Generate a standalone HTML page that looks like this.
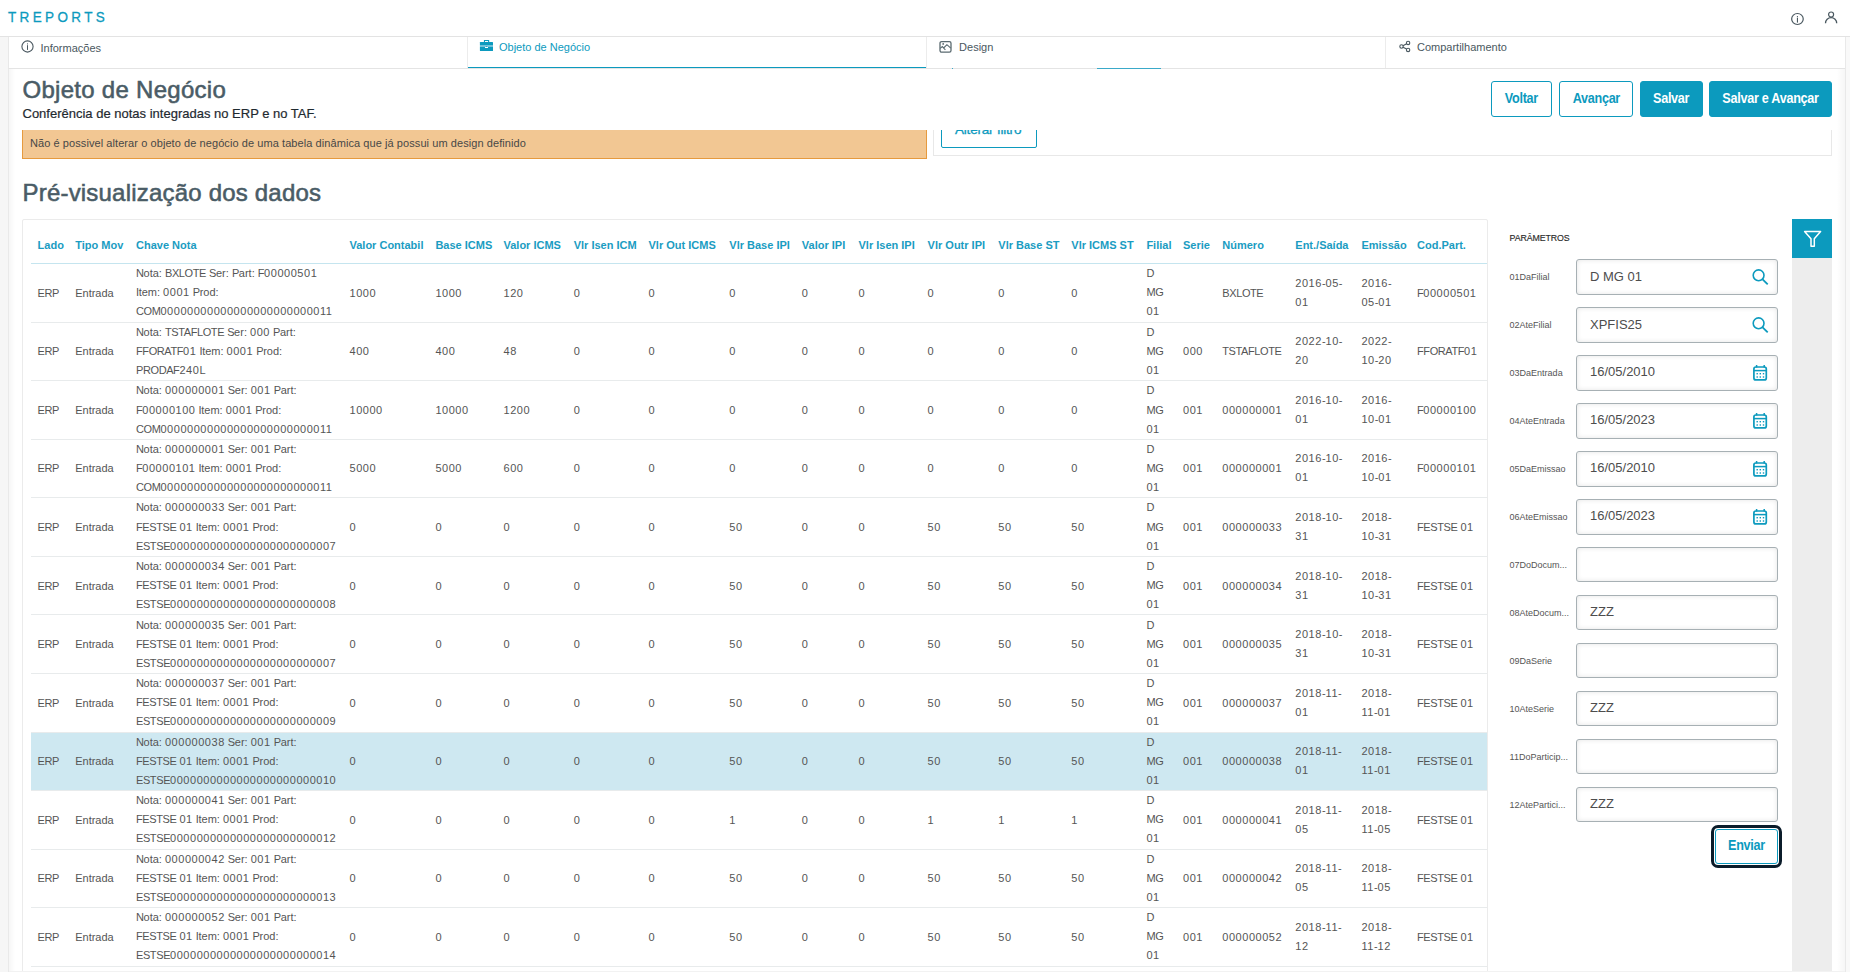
<!DOCTYPE html>
<html><head><meta charset="utf-8"><title>TReports</title><style>
*{box-sizing:border-box}
html,body{margin:0;padding:0}
body{width:1850px;height:972px;overflow:hidden;position:relative;background:#f6f6f6;font-family:"Liberation Sans",sans-serif}
.t{position:absolute;white-space:nowrap;line-height:1}
.ic{position:absolute}
.d{letter-spacing:0.53px}
.u{letter-spacing:-0.4px}
.c{font-size:11px;color:#555}
#hdr{position:absolute;left:0;top:0;width:1850px;height:37px;background:#fff;border-bottom:1px solid #e3e3e3}
#card{position:absolute;left:8px;top:37px;width:1837px;height:940px;background:#fff;border-left:1px solid #e9e9e9}
#lsh{position:absolute;left:9px;top:69px;width:6px;height:910px;background:linear-gradient(to right,rgba(0,0,0,0.035),rgba(0,0,0,0))}
#tabs{position:absolute;left:8px;top:37px;width:1837px;height:32px;background:#fff;border-bottom:1px solid #e4e4e4;border-left:1px solid #e8e8e8}
.vdiv{position:absolute;top:37px;width:1px;height:31px;background:#ececec}
#tabact{position:absolute;left:468px;top:67px;width:458px;height:1px;background:#0c9abe}
#fcard{position:absolute;left:933px;top:100px;width:899px;height:56px;background:#fff;border:1px solid #e8e8e8;border-radius:0}
#altbtn{position:absolute;left:941px;top:111px;width:96px;height:37px;border:1px solid #0c9abe;border-radius:2px;background:#fff;overflow:hidden}
#cover{position:absolute;left:933px;top:69px;width:912px;height:61px;background:#fff}
.btn{position:absolute;top:81px;height:36px;border:1px solid #0c9abe;border-radius:3px;background:#fff;color:#0c9abe;font-size:14px;font-weight:700;letter-spacing:-0.3px;text-align:center;line-height:32px;white-space:nowrap}
.btn span{display:inline-block;transform:scaleX(0.9)}
.btn.fill{background:#0c9abe;color:#fff}
#alert{position:absolute;left:22px;top:130px;width:905px;height:29px;background:#f2c793;border-left:1px solid #e69a3e;border-right:1px solid #e69a3e;border-bottom:1px solid #e69a3e}
#tcard{position:absolute;left:22px;top:219px;width:1466px;height:760px;background:#fff;border:1px solid #ebebeb;border-radius:2px}
#thline{position:absolute;left:31px;top:263px;width:1456px;height:1px;background:#c5e5ef}
.rb{position:absolute;left:31px;width:1456px;height:1px;background:#e8ebec}
.row{position:absolute;left:31px;width:1456px}
.row.sel{background:#cee8f1}
.inp{position:absolute;left:1576px;width:202px;height:36px;border:1px solid #a7b0b4;border-radius:3px;background:#fff;box-shadow:inset 0 0 5px rgba(0,0,0,0.11)}
#envring{position:absolute;left:1711px;top:825px;width:71px;height:43px;border:3px solid #0b1c2a;border-radius:7px;background:#fff}
#enviar{left:1715px;top:829px;width:63px;height:35px;line-height:31px;border-radius:3px}
#fcol{position:absolute;left:1792px;top:258px;width:40px;height:720px;background:#ededed}
#fbtn{position:absolute;left:1792px;top:219px;width:40px;height:39px;background:#0c9abe}
#rstrip{position:absolute;left:1845px;top:37px;width:5px;height:940px;background:#f9f9f9;border-left:1px solid #e9e9e9}
#rsh{position:absolute;left:1837px;top:69px;width:8px;height:910px;background:linear-gradient(to left,rgba(0,0,0,0.035),rgba(0,0,0,0))}
</style></head><body>
<div id="hdr"></div>
<div class="t" style="left:8.00px;top:8.96px;font-size:16px;color:#0c9abe;font-weight:400;letter-spacing:3.98px;-webkit-text-stroke:0.3px #0c9abe;transform:scale(0.844,0.9);transform-origin:0 13.54px;">TREPORTS</div>
<svg class="ic" style="left:1790px;top:11px" width="16" height="16" viewBox="0 0 16 16"><ellipse cx="7.45" cy="8" rx="5.8" ry="5.5" fill="none" stroke="#4a5860" stroke-width="1.2"/><rect x="6.9" y="5" width="1.1" height="0.9" fill="#4a5860"/><rect x="6.9" y="6.6" width="1.1" height="5" fill="#4a5860"/></svg>
<svg class="ic" style="left:1822px;top:9px" width="18" height="18" viewBox="0 0 18 18"><circle cx="9.1" cy="5.5" r="2.5" fill="none" stroke="#4a5860" stroke-width="1.2"/><path d="M3.5 14.2 A5.6 5.6 0 0 1 14.7 14.2" fill="none" stroke="#4a5860" stroke-width="1.3"/></svg>
<div id="card"></div>
<div id="lsh"></div>
<div id="tabs"></div>
<div class="vdiv" style="left:467px"></div>
<div class="vdiv" style="left:926px"></div>
<div class="vdiv" style="left:1385px"></div>
<div id="tabact"></div>
<div style="position:absolute;left:1097px;top:68px;width:64px;height:1px;background:#3aa9c9"></div>
<div style="position:absolute;left:952px;top:68px;width:1px;height:1px;background:#3aa9c9"></div>
<svg class="ic" style="left:20px;top:40px" width="14" height="14" viewBox="0 0 14 14"><circle cx="7.5" cy="6.5" r="5.6" fill="none" stroke="#4a5860" stroke-width="1.1"/><rect x="7" y="5.2" width="1" height="4.7" fill="#4a5860"/><rect x="7" y="3.4" width="1" height="1" fill="#4a5860"/></svg>
<div class="t" style="left:40.50px;top:42.69px;font-size:11px;color:#4a5860;">Informações</div>
<svg class="ic" style="left:474px;top:36px" width="30" height="20" viewBox="0 0 30 20"><path fill="#0c9abe" fill-rule="evenodd" d="M10.3 3.9 H14.8 Q15.2 3.9 15.2 4.3 V6.2 H14.1 V5.1 H11 V6.2 H9.9 V4.3 Q9.9 3.9 10.3 3.9 Z"/><path fill="#0c9abe" d="M6.4 6 H18.5 Q19 6 19 6.5 V9 H5.9 V6.5 Q5.9 6 6.4 6 Z"/><rect x="5.9" y="9" width="13.1" height="2" fill="#72c2da"/><path fill="#0c9abe" d="M5.9 11 H11 V11.9 H14 V11 H19 V14.5 Q19 15 18.5 15 H6.4 Q5.9 15 5.9 14.5 Z"/><rect x="12.2" y="10.1" width="0.7" height="0.9" fill="#0c9abe"/></svg>
<div class="t" style="left:499.00px;top:42.49px;font-size:11px;color:#0c9abe;">Objeto de Negócio</div>
<svg class="ic" style="left:939px;top:40px" width="13" height="13" viewBox="0 0 13 13"><rect x="1" y="1.6" width="11" height="10.6" rx="1.6" fill="none" stroke="#5a6a70" stroke-width="1.3"/><circle cx="4.2" cy="3.9" r="0.9" fill="#5a6a70"/><path d="M1.2 8.3 L3.3 6.5 L6.4 9.8 M4.6 8 L7.9 4.7 L11.8 8.2" fill="none" stroke="#5a6a70" stroke-width="1.1"/></svg>
<div class="t" style="left:959.10px;top:41.59px;font-size:11px;color:#4a5860;">Design</div>
<svg class="ic" style="left:1398px;top:40px" width="14" height="13" viewBox="0 0 14 13"><circle cx="3.5" cy="6.5" r="1.7" fill="none" stroke="#4a5860" stroke-width="1.1"/><circle cx="10.1" cy="2.9" r="1.7" fill="none" stroke="#4a5860" stroke-width="1.1"/><circle cx="10.1" cy="9.9" r="1.7" fill="none" stroke="#4a5860" stroke-width="1.1"/><path d="M5 5.7 L8.6 3.8 M5 7.3 L8.6 9.1" stroke="#4a5860" stroke-width="1.1"/></svg>
<div class="t" style="left:1417.00px;top:41.79px;font-size:11px;color:#4a5860;">Compartilhamento</div>
<div id="fcard"></div>
<div id="altbtn"></div>
<div class="t" style="left:955.00px;top:123.07px;font-size:13.5px;color:#0c9abe;font-weight:400;letter-spacing:-0.2px;-webkit-text-stroke:0.3px #0c9abe;">Alterar filtro</div>
<div id="cover"></div>
<div class="t" style="left:22.50px;top:77.98px;font-size:24px;color:#4a5c66;font-weight:400;letter-spacing:0.28px;-webkit-text-stroke:0.55px #4a5c66;">Objeto de Negócio</div>
<div class="t" style="left:22.50px;top:107.00px;font-size:13px;color:#1f2a30;font-weight:400;-webkit-text-stroke:0.2px #1f2a30;">Conferência de notas integradas no ERP e no TAF.</div>
<div class="btn" style="left:1491px;width:61px"><span>Voltar</span></div>
<div class="btn" style="left:1559px;width:74px"><span>Avançar</span></div>
<div class="btn fill" style="left:1640px;width:63px"><span>Salvar</span></div>
<div class="btn fill" style="left:1709px;width:123px"><span>Salvar e Avançar</span></div>
<div id="alert"></div>
<div class="t" style="left:30.00px;top:138.09px;font-size:11px;color:#474747;letter-spacing:0.075px;">Não é possivel alterar o objeto de negócio de uma tabela dinâmica que já possui um design definido</div>
<div class="t" style="left:22.50px;top:180.98px;font-size:24px;color:#4a5c66;font-weight:400;letter-spacing:0.2px;-webkit-text-stroke:0.55px #4a5c66;">Pré-visualização dos dados</div>
<div id="tcard"></div>
<div class="t" style="left:37.60px;top:239.89px;font-size:11px;color:#1a9cc2;font-weight:700;">Lado</div>
<div class="t" style="left:75.20px;top:239.89px;font-size:11px;color:#1a9cc2;font-weight:700;">Tipo Mov</div>
<div class="t" style="left:136.00px;top:239.89px;font-size:11px;color:#1a9cc2;font-weight:700;">Chave Nota</div>
<div class="t" style="left:349.50px;top:239.89px;font-size:11px;color:#1a9cc2;font-weight:700;">Valor Contabil</div>
<div class="t" style="left:435.40px;top:239.89px;font-size:11px;color:#1a9cc2;font-weight:700;">Base ICMS</div>
<div class="t" style="left:503.50px;top:239.89px;font-size:11px;color:#1a9cc2;font-weight:700;">Valor ICMS</div>
<div class="t" style="left:573.70px;top:239.89px;font-size:11px;color:#1a9cc2;font-weight:700;">Vlr Isen ICM</div>
<div class="t" style="left:648.50px;top:239.89px;font-size:11px;color:#1a9cc2;font-weight:700;">Vlr Out ICMS</div>
<div class="t" style="left:729.30px;top:239.89px;font-size:11px;color:#1a9cc2;font-weight:700;">Vlr Base IPI</div>
<div class="t" style="left:801.80px;top:239.89px;font-size:11px;color:#1a9cc2;font-weight:700;">Valor IPI</div>
<div class="t" style="left:858.50px;top:239.89px;font-size:11px;color:#1a9cc2;font-weight:700;">Vlr Isen IPI</div>
<div class="t" style="left:927.60px;top:239.89px;font-size:11px;color:#1a9cc2;font-weight:700;">Vlr Outr IPI</div>
<div class="t" style="left:998.30px;top:239.89px;font-size:11px;color:#1a9cc2;font-weight:700;">Vlr Base ST</div>
<div class="t" style="left:1071.30px;top:239.89px;font-size:11px;color:#1a9cc2;font-weight:700;">Vlr ICMS ST</div>
<div class="t" style="left:1146.40px;top:239.89px;font-size:11px;color:#1a9cc2;font-weight:700;">Filial</div>
<div class="t" style="left:1183.00px;top:239.89px;font-size:11px;color:#1a9cc2;font-weight:700;">Serie</div>
<div class="t" style="left:1222.30px;top:239.89px;font-size:11px;color:#1a9cc2;font-weight:700;">Número</div>
<div class="t" style="left:1295.30px;top:239.89px;font-size:11px;color:#1a9cc2;font-weight:700;">Ent./Saída</div>
<div class="t" style="left:1361.40px;top:239.89px;font-size:11px;color:#1a9cc2;font-weight:700;">Emissão</div>
<div class="t" style="left:1417.00px;top:239.89px;font-size:11px;color:#1a9cc2;font-weight:700;">Cod.Part.</div>
<div id="thline"></div>
<div class="rb" style="top:322px"></div>
<div class="rb" style="top:380px"></div>
<div class="rb" style="top:439px"></div>
<div class="rb" style="top:497px"></div>
<div class="rb" style="top:556px"></div>
<div class="rb" style="top:614px"></div>
<div class="rb" style="top:673px"></div>
<div class="rb" style="top:732px"></div>
<div class="rb" style="top:790px"></div>
<div class="rb" style="top:849px"></div>
<div class="rb" style="top:907px"></div>
<div class="rb" style="top:966px"></div>
<div class="t c" style="left:37.60px;top:288px"><span class="u">ERP</span></div>
<div class="t c" style="left:75.20px;top:288px">Entrada</div>
<div class="t c" style="left:136.00px;top:268px"><span class="u">N</span>ota: <span class="u">BXLOTE</span> <span class="u">S</span>er: <span class="u">P</span>art: <span class="u">F</span><span class="d">00000501</span></div>
<div class="t c" style="left:136.00px;top:287px"><span class="u">I</span>tem: <span class="d">0001</span> <span class="u">P</span>rod:</div>
<div class="t c" style="left:136.00px;top:306px"><span class="u">COM</span><span class="d">00000000000000000000000011</span></div>
<div class="t c" style="left:349.50px;top:288px"><span class="d">1000</span></div>
<div class="t c" style="left:435.40px;top:288px"><span class="d">1000</span></div>
<div class="t c" style="left:503.50px;top:288px"><span class="d">120</span></div>
<div class="t c" style="left:573.70px;top:288px"><span class="d">0</span></div>
<div class="t c" style="left:648.50px;top:288px"><span class="d">0</span></div>
<div class="t c" style="left:729.30px;top:288px"><span class="d">0</span></div>
<div class="t c" style="left:801.80px;top:288px"><span class="d">0</span></div>
<div class="t c" style="left:858.50px;top:288px"><span class="d">0</span></div>
<div class="t c" style="left:927.60px;top:288px"><span class="d">0</span></div>
<div class="t c" style="left:998.30px;top:288px"><span class="d">0</span></div>
<div class="t c" style="left:1071.30px;top:288px"><span class="d">0</span></div>
<div class="t c" style="left:1146.40px;top:268px"><span class="u">D</span></div>
<div class="t c" style="left:1146.40px;top:287px"><span class="u">MG</span></div>
<div class="t c" style="left:1146.40px;top:306px"><span class="d">01</span></div>
<div class="t c" style="left:1222.30px;top:288px"><span class="u">BXLOTE</span></div>
<div class="t c" style="left:1295.30px;top:278px"><span class="d">2016</span>-<span class="d">05</span>-</div>
<div class="t c" style="left:1295.30px;top:297px"><span class="d">01</span></div>
<div class="t c" style="left:1361.40px;top:278px"><span class="d">2016</span>-</div>
<div class="t c" style="left:1361.40px;top:297px"><span class="d">05</span>-<span class="d">01</span></div>
<div class="t c" style="left:1417.00px;top:288px"><span class="u">F</span><span class="d">00000501</span></div>
<div class="t c" style="left:37.60px;top:346px"><span class="u">ERP</span></div>
<div class="t c" style="left:75.20px;top:346px">Entrada</div>
<div class="t c" style="left:136.00px;top:327px"><span class="u">N</span>ota: <span class="u">TSTAFLOTE</span> <span class="u">S</span>er: <span class="d">000</span> <span class="u">P</span>art:</div>
<div class="t c" style="left:136.00px;top:346px"><span class="u">FFORATF</span><span class="d">01</span> <span class="u">I</span>tem: <span class="d">0001</span> <span class="u">P</span>rod:</div>
<div class="t c" style="left:136.00px;top:365px"><span class="u">PRODAF</span><span class="d">240</span><span class="u">L</span></div>
<div class="t c" style="left:349.50px;top:346px"><span class="d">400</span></div>
<div class="t c" style="left:435.40px;top:346px"><span class="d">400</span></div>
<div class="t c" style="left:503.50px;top:346px"><span class="d">48</span></div>
<div class="t c" style="left:573.70px;top:346px"><span class="d">0</span></div>
<div class="t c" style="left:648.50px;top:346px"><span class="d">0</span></div>
<div class="t c" style="left:729.30px;top:346px"><span class="d">0</span></div>
<div class="t c" style="left:801.80px;top:346px"><span class="d">0</span></div>
<div class="t c" style="left:858.50px;top:346px"><span class="d">0</span></div>
<div class="t c" style="left:927.60px;top:346px"><span class="d">0</span></div>
<div class="t c" style="left:998.30px;top:346px"><span class="d">0</span></div>
<div class="t c" style="left:1071.30px;top:346px"><span class="d">0</span></div>
<div class="t c" style="left:1146.40px;top:327px"><span class="u">D</span></div>
<div class="t c" style="left:1146.40px;top:346px"><span class="u">MG</span></div>
<div class="t c" style="left:1146.40px;top:365px"><span class="d">01</span></div>
<div class="t c" style="left:1183.00px;top:346px"><span class="d">000</span></div>
<div class="t c" style="left:1222.30px;top:346px"><span class="u">TSTAFLOTE</span></div>
<div class="t c" style="left:1295.30px;top:336px"><span class="d">2022</span>-<span class="d">10</span>-</div>
<div class="t c" style="left:1295.30px;top:355px"><span class="d">20</span></div>
<div class="t c" style="left:1361.40px;top:336px"><span class="d">2022</span>-</div>
<div class="t c" style="left:1361.40px;top:355px"><span class="d">10</span>-<span class="d">20</span></div>
<div class="t c" style="left:1417.00px;top:346px"><span class="u">FFORATF</span><span class="d">01</span></div>
<div class="t c" style="left:37.60px;top:405px"><span class="u">ERP</span></div>
<div class="t c" style="left:75.20px;top:405px">Entrada</div>
<div class="t c" style="left:136.00px;top:385px"><span class="u">N</span>ota: <span class="d">000000001</span> <span class="u">S</span>er: <span class="d">001</span> <span class="u">P</span>art:</div>
<div class="t c" style="left:136.00px;top:405px"><span class="u">F</span><span class="d">00000100</span> <span class="u">I</span>tem: <span class="d">0001</span> <span class="u">P</span>rod:</div>
<div class="t c" style="left:136.00px;top:424px"><span class="u">COM</span><span class="d">00000000000000000000000011</span></div>
<div class="t c" style="left:349.50px;top:405px"><span class="d">10000</span></div>
<div class="t c" style="left:435.40px;top:405px"><span class="d">10000</span></div>
<div class="t c" style="left:503.50px;top:405px"><span class="d">1200</span></div>
<div class="t c" style="left:573.70px;top:405px"><span class="d">0</span></div>
<div class="t c" style="left:648.50px;top:405px"><span class="d">0</span></div>
<div class="t c" style="left:729.30px;top:405px"><span class="d">0</span></div>
<div class="t c" style="left:801.80px;top:405px"><span class="d">0</span></div>
<div class="t c" style="left:858.50px;top:405px"><span class="d">0</span></div>
<div class="t c" style="left:927.60px;top:405px"><span class="d">0</span></div>
<div class="t c" style="left:998.30px;top:405px"><span class="d">0</span></div>
<div class="t c" style="left:1071.30px;top:405px"><span class="d">0</span></div>
<div class="t c" style="left:1146.40px;top:385px"><span class="u">D</span></div>
<div class="t c" style="left:1146.40px;top:405px"><span class="u">MG</span></div>
<div class="t c" style="left:1146.40px;top:424px"><span class="d">01</span></div>
<div class="t c" style="left:1183.00px;top:405px"><span class="d">001</span></div>
<div class="t c" style="left:1222.30px;top:405px"><span class="d">000000001</span></div>
<div class="t c" style="left:1295.30px;top:395px"><span class="d">2016</span>-<span class="d">10</span>-</div>
<div class="t c" style="left:1295.30px;top:414px"><span class="d">01</span></div>
<div class="t c" style="left:1361.40px;top:395px"><span class="d">2016</span>-</div>
<div class="t c" style="left:1361.40px;top:414px"><span class="d">10</span>-<span class="d">01</span></div>
<div class="t c" style="left:1417.00px;top:405px"><span class="u">F</span><span class="d">00000100</span></div>
<div class="t c" style="left:37.60px;top:463px"><span class="u">ERP</span></div>
<div class="t c" style="left:75.20px;top:463px">Entrada</div>
<div class="t c" style="left:136.00px;top:444px"><span class="u">N</span>ota: <span class="d">000000001</span> <span class="u">S</span>er: <span class="d">001</span> <span class="u">P</span>art:</div>
<div class="t c" style="left:136.00px;top:463px"><span class="u">F</span><span class="d">00000101</span> <span class="u">I</span>tem: <span class="d">0001</span> <span class="u">P</span>rod:</div>
<div class="t c" style="left:136.00px;top:482px"><span class="u">COM</span><span class="d">00000000000000000000000011</span></div>
<div class="t c" style="left:349.50px;top:463px"><span class="d">5000</span></div>
<div class="t c" style="left:435.40px;top:463px"><span class="d">5000</span></div>
<div class="t c" style="left:503.50px;top:463px"><span class="d">600</span></div>
<div class="t c" style="left:573.70px;top:463px"><span class="d">0</span></div>
<div class="t c" style="left:648.50px;top:463px"><span class="d">0</span></div>
<div class="t c" style="left:729.30px;top:463px"><span class="d">0</span></div>
<div class="t c" style="left:801.80px;top:463px"><span class="d">0</span></div>
<div class="t c" style="left:858.50px;top:463px"><span class="d">0</span></div>
<div class="t c" style="left:927.60px;top:463px"><span class="d">0</span></div>
<div class="t c" style="left:998.30px;top:463px"><span class="d">0</span></div>
<div class="t c" style="left:1071.30px;top:463px"><span class="d">0</span></div>
<div class="t c" style="left:1146.40px;top:444px"><span class="u">D</span></div>
<div class="t c" style="left:1146.40px;top:463px"><span class="u">MG</span></div>
<div class="t c" style="left:1146.40px;top:482px"><span class="d">01</span></div>
<div class="t c" style="left:1183.00px;top:463px"><span class="d">001</span></div>
<div class="t c" style="left:1222.30px;top:463px"><span class="d">000000001</span></div>
<div class="t c" style="left:1295.30px;top:453px"><span class="d">2016</span>-<span class="d">10</span>-</div>
<div class="t c" style="left:1295.30px;top:472px"><span class="d">01</span></div>
<div class="t c" style="left:1361.40px;top:453px"><span class="d">2016</span>-</div>
<div class="t c" style="left:1361.40px;top:472px"><span class="d">10</span>-<span class="d">01</span></div>
<div class="t c" style="left:1417.00px;top:463px"><span class="u">F</span><span class="d">00000101</span></div>
<div class="t c" style="left:37.60px;top:522px"><span class="u">ERP</span></div>
<div class="t c" style="left:75.20px;top:522px">Entrada</div>
<div class="t c" style="left:136.00px;top:502px"><span class="u">N</span>ota: <span class="d">000000033</span> <span class="u">S</span>er: <span class="d">001</span> <span class="u">P</span>art:</div>
<div class="t c" style="left:136.00px;top:522px"><span class="u">FESTSE</span> <span class="d">01</span> <span class="u">I</span>tem: <span class="d">0001</span> <span class="u">P</span>rod:</div>
<div class="t c" style="left:136.00px;top:541px"><span class="u">ESTSE</span><span class="d">0000000000000000000000007</span></div>
<div class="t c" style="left:349.50px;top:522px"><span class="d">0</span></div>
<div class="t c" style="left:435.40px;top:522px"><span class="d">0</span></div>
<div class="t c" style="left:503.50px;top:522px"><span class="d">0</span></div>
<div class="t c" style="left:573.70px;top:522px"><span class="d">0</span></div>
<div class="t c" style="left:648.50px;top:522px"><span class="d">0</span></div>
<div class="t c" style="left:729.30px;top:522px"><span class="d">50</span></div>
<div class="t c" style="left:801.80px;top:522px"><span class="d">0</span></div>
<div class="t c" style="left:858.50px;top:522px"><span class="d">0</span></div>
<div class="t c" style="left:927.60px;top:522px"><span class="d">50</span></div>
<div class="t c" style="left:998.30px;top:522px"><span class="d">50</span></div>
<div class="t c" style="left:1071.30px;top:522px"><span class="d">50</span></div>
<div class="t c" style="left:1146.40px;top:502px"><span class="u">D</span></div>
<div class="t c" style="left:1146.40px;top:522px"><span class="u">MG</span></div>
<div class="t c" style="left:1146.40px;top:541px"><span class="d">01</span></div>
<div class="t c" style="left:1183.00px;top:522px"><span class="d">001</span></div>
<div class="t c" style="left:1222.30px;top:522px"><span class="d">000000033</span></div>
<div class="t c" style="left:1295.30px;top:512px"><span class="d">2018</span>-<span class="d">10</span>-</div>
<div class="t c" style="left:1295.30px;top:531px"><span class="d">31</span></div>
<div class="t c" style="left:1361.40px;top:512px"><span class="d">2018</span>-</div>
<div class="t c" style="left:1361.40px;top:531px"><span class="d">10</span>-<span class="d">31</span></div>
<div class="t c" style="left:1417.00px;top:522px"><span class="u">FESTSE</span> <span class="d">01</span></div>
<div class="t c" style="left:37.60px;top:581px"><span class="u">ERP</span></div>
<div class="t c" style="left:75.20px;top:581px">Entrada</div>
<div class="t c" style="left:136.00px;top:561px"><span class="u">N</span>ota: <span class="d">000000034</span> <span class="u">S</span>er: <span class="d">001</span> <span class="u">P</span>art:</div>
<div class="t c" style="left:136.00px;top:580px"><span class="u">FESTSE</span> <span class="d">01</span> <span class="u">I</span>tem: <span class="d">0001</span> <span class="u">P</span>rod:</div>
<div class="t c" style="left:136.00px;top:599px"><span class="u">ESTSE</span><span class="d">0000000000000000000000008</span></div>
<div class="t c" style="left:349.50px;top:581px"><span class="d">0</span></div>
<div class="t c" style="left:435.40px;top:581px"><span class="d">0</span></div>
<div class="t c" style="left:503.50px;top:581px"><span class="d">0</span></div>
<div class="t c" style="left:573.70px;top:581px"><span class="d">0</span></div>
<div class="t c" style="left:648.50px;top:581px"><span class="d">0</span></div>
<div class="t c" style="left:729.30px;top:581px"><span class="d">50</span></div>
<div class="t c" style="left:801.80px;top:581px"><span class="d">0</span></div>
<div class="t c" style="left:858.50px;top:581px"><span class="d">0</span></div>
<div class="t c" style="left:927.60px;top:581px"><span class="d">50</span></div>
<div class="t c" style="left:998.30px;top:581px"><span class="d">50</span></div>
<div class="t c" style="left:1071.30px;top:581px"><span class="d">50</span></div>
<div class="t c" style="left:1146.40px;top:561px"><span class="u">D</span></div>
<div class="t c" style="left:1146.40px;top:580px"><span class="u">MG</span></div>
<div class="t c" style="left:1146.40px;top:599px"><span class="d">01</span></div>
<div class="t c" style="left:1183.00px;top:581px"><span class="d">001</span></div>
<div class="t c" style="left:1222.30px;top:581px"><span class="d">000000034</span></div>
<div class="t c" style="left:1295.30px;top:571px"><span class="d">2018</span>-<span class="d">10</span>-</div>
<div class="t c" style="left:1295.30px;top:590px"><span class="d">31</span></div>
<div class="t c" style="left:1361.40px;top:571px"><span class="d">2018</span>-</div>
<div class="t c" style="left:1361.40px;top:590px"><span class="d">10</span>-<span class="d">31</span></div>
<div class="t c" style="left:1417.00px;top:581px"><span class="u">FESTSE</span> <span class="d">01</span></div>
<div class="t c" style="left:37.60px;top:639px"><span class="u">ERP</span></div>
<div class="t c" style="left:75.20px;top:639px">Entrada</div>
<div class="t c" style="left:136.00px;top:620px"><span class="u">N</span>ota: <span class="d">000000035</span> <span class="u">S</span>er: <span class="d">001</span> <span class="u">P</span>art:</div>
<div class="t c" style="left:136.00px;top:639px"><span class="u">FESTSE</span> <span class="d">01</span> <span class="u">I</span>tem: <span class="d">0001</span> <span class="u">P</span>rod:</div>
<div class="t c" style="left:136.00px;top:658px"><span class="u">ESTSE</span><span class="d">0000000000000000000000007</span></div>
<div class="t c" style="left:349.50px;top:639px"><span class="d">0</span></div>
<div class="t c" style="left:435.40px;top:639px"><span class="d">0</span></div>
<div class="t c" style="left:503.50px;top:639px"><span class="d">0</span></div>
<div class="t c" style="left:573.70px;top:639px"><span class="d">0</span></div>
<div class="t c" style="left:648.50px;top:639px"><span class="d">0</span></div>
<div class="t c" style="left:729.30px;top:639px"><span class="d">50</span></div>
<div class="t c" style="left:801.80px;top:639px"><span class="d">0</span></div>
<div class="t c" style="left:858.50px;top:639px"><span class="d">0</span></div>
<div class="t c" style="left:927.60px;top:639px"><span class="d">50</span></div>
<div class="t c" style="left:998.30px;top:639px"><span class="d">50</span></div>
<div class="t c" style="left:1071.30px;top:639px"><span class="d">50</span></div>
<div class="t c" style="left:1146.40px;top:620px"><span class="u">D</span></div>
<div class="t c" style="left:1146.40px;top:639px"><span class="u">MG</span></div>
<div class="t c" style="left:1146.40px;top:658px"><span class="d">01</span></div>
<div class="t c" style="left:1183.00px;top:639px"><span class="d">001</span></div>
<div class="t c" style="left:1222.30px;top:639px"><span class="d">000000035</span></div>
<div class="t c" style="left:1295.30px;top:629px"><span class="d">2018</span>-<span class="d">10</span>-</div>
<div class="t c" style="left:1295.30px;top:648px"><span class="d">31</span></div>
<div class="t c" style="left:1361.40px;top:629px"><span class="d">2018</span>-</div>
<div class="t c" style="left:1361.40px;top:648px"><span class="d">10</span>-<span class="d">31</span></div>
<div class="t c" style="left:1417.00px;top:639px"><span class="u">FESTSE</span> <span class="d">01</span></div>
<div class="t c" style="left:37.60px;top:698px"><span class="u">ERP</span></div>
<div class="t c" style="left:75.20px;top:698px">Entrada</div>
<div class="t c" style="left:136.00px;top:678px"><span class="u">N</span>ota: <span class="d">000000037</span> <span class="u">S</span>er: <span class="d">001</span> <span class="u">P</span>art:</div>
<div class="t c" style="left:136.00px;top:697px"><span class="u">FESTSE</span> <span class="d">01</span> <span class="u">I</span>tem: <span class="d">0001</span> <span class="u">P</span>rod:</div>
<div class="t c" style="left:136.00px;top:716px"><span class="u">ESTSE</span><span class="d">0000000000000000000000009</span></div>
<div class="t c" style="left:349.50px;top:698px"><span class="d">0</span></div>
<div class="t c" style="left:435.40px;top:698px"><span class="d">0</span></div>
<div class="t c" style="left:503.50px;top:698px"><span class="d">0</span></div>
<div class="t c" style="left:573.70px;top:698px"><span class="d">0</span></div>
<div class="t c" style="left:648.50px;top:698px"><span class="d">0</span></div>
<div class="t c" style="left:729.30px;top:698px"><span class="d">50</span></div>
<div class="t c" style="left:801.80px;top:698px"><span class="d">0</span></div>
<div class="t c" style="left:858.50px;top:698px"><span class="d">0</span></div>
<div class="t c" style="left:927.60px;top:698px"><span class="d">50</span></div>
<div class="t c" style="left:998.30px;top:698px"><span class="d">50</span></div>
<div class="t c" style="left:1071.30px;top:698px"><span class="d">50</span></div>
<div class="t c" style="left:1146.40px;top:678px"><span class="u">D</span></div>
<div class="t c" style="left:1146.40px;top:697px"><span class="u">MG</span></div>
<div class="t c" style="left:1146.40px;top:716px"><span class="d">01</span></div>
<div class="t c" style="left:1183.00px;top:698px"><span class="d">001</span></div>
<div class="t c" style="left:1222.30px;top:698px"><span class="d">000000037</span></div>
<div class="t c" style="left:1295.30px;top:688px"><span class="d">2018</span>-<span class="d">11</span>-</div>
<div class="t c" style="left:1295.30px;top:707px"><span class="d">01</span></div>
<div class="t c" style="left:1361.40px;top:688px"><span class="d">2018</span>-</div>
<div class="t c" style="left:1361.40px;top:707px"><span class="d">11</span>-<span class="d">01</span></div>
<div class="t c" style="left:1417.00px;top:698px"><span class="u">FESTSE</span> <span class="d">01</span></div>
<div class="row sel" style="top:733px;height:57px"></div>
<div class="t c" style="left:37.60px;top:756px"><span class="u">ERP</span></div>
<div class="t c" style="left:75.20px;top:756px">Entrada</div>
<div class="t c" style="left:136.00px;top:737px"><span class="u">N</span>ota: <span class="d">000000038</span> <span class="u">S</span>er: <span class="d">001</span> <span class="u">P</span>art:</div>
<div class="t c" style="left:136.00px;top:756px"><span class="u">FESTSE</span> <span class="d">01</span> <span class="u">I</span>tem: <span class="d">0001</span> <span class="u">P</span>rod:</div>
<div class="t c" style="left:136.00px;top:775px"><span class="u">ESTSE</span><span class="d">0000000000000000000000010</span></div>
<div class="t c" style="left:349.50px;top:756px"><span class="d">0</span></div>
<div class="t c" style="left:435.40px;top:756px"><span class="d">0</span></div>
<div class="t c" style="left:503.50px;top:756px"><span class="d">0</span></div>
<div class="t c" style="left:573.70px;top:756px"><span class="d">0</span></div>
<div class="t c" style="left:648.50px;top:756px"><span class="d">0</span></div>
<div class="t c" style="left:729.30px;top:756px"><span class="d">50</span></div>
<div class="t c" style="left:801.80px;top:756px"><span class="d">0</span></div>
<div class="t c" style="left:858.50px;top:756px"><span class="d">0</span></div>
<div class="t c" style="left:927.60px;top:756px"><span class="d">50</span></div>
<div class="t c" style="left:998.30px;top:756px"><span class="d">50</span></div>
<div class="t c" style="left:1071.30px;top:756px"><span class="d">50</span></div>
<div class="t c" style="left:1146.40px;top:737px"><span class="u">D</span></div>
<div class="t c" style="left:1146.40px;top:756px"><span class="u">MG</span></div>
<div class="t c" style="left:1146.40px;top:775px"><span class="d">01</span></div>
<div class="t c" style="left:1183.00px;top:756px"><span class="d">001</span></div>
<div class="t c" style="left:1222.30px;top:756px"><span class="d">000000038</span></div>
<div class="t c" style="left:1295.30px;top:746px"><span class="d">2018</span>-<span class="d">11</span>-</div>
<div class="t c" style="left:1295.30px;top:765px"><span class="d">01</span></div>
<div class="t c" style="left:1361.40px;top:746px"><span class="d">2018</span>-</div>
<div class="t c" style="left:1361.40px;top:765px"><span class="d">11</span>-<span class="d">01</span></div>
<div class="t c" style="left:1417.00px;top:756px"><span class="u">FESTSE</span> <span class="d">01</span></div>
<div class="t c" style="left:37.60px;top:815px"><span class="u">ERP</span></div>
<div class="t c" style="left:75.20px;top:815px">Entrada</div>
<div class="t c" style="left:136.00px;top:795px"><span class="u">N</span>ota: <span class="d">000000041</span> <span class="u">S</span>er: <span class="d">001</span> <span class="u">P</span>art:</div>
<div class="t c" style="left:136.00px;top:814px"><span class="u">FESTSE</span> <span class="d">01</span> <span class="u">I</span>tem: <span class="d">0001</span> <span class="u">P</span>rod:</div>
<div class="t c" style="left:136.00px;top:833px"><span class="u">ESTSE</span><span class="d">0000000000000000000000012</span></div>
<div class="t c" style="left:349.50px;top:815px"><span class="d">0</span></div>
<div class="t c" style="left:435.40px;top:815px"><span class="d">0</span></div>
<div class="t c" style="left:503.50px;top:815px"><span class="d">0</span></div>
<div class="t c" style="left:573.70px;top:815px"><span class="d">0</span></div>
<div class="t c" style="left:648.50px;top:815px"><span class="d">0</span></div>
<div class="t c" style="left:729.30px;top:815px"><span class="d">1</span></div>
<div class="t c" style="left:801.80px;top:815px"><span class="d">0</span></div>
<div class="t c" style="left:858.50px;top:815px"><span class="d">0</span></div>
<div class="t c" style="left:927.60px;top:815px"><span class="d">1</span></div>
<div class="t c" style="left:998.30px;top:815px"><span class="d">1</span></div>
<div class="t c" style="left:1071.30px;top:815px"><span class="d">1</span></div>
<div class="t c" style="left:1146.40px;top:795px"><span class="u">D</span></div>
<div class="t c" style="left:1146.40px;top:814px"><span class="u">MG</span></div>
<div class="t c" style="left:1146.40px;top:833px"><span class="d">01</span></div>
<div class="t c" style="left:1183.00px;top:815px"><span class="d">001</span></div>
<div class="t c" style="left:1222.30px;top:815px"><span class="d">000000041</span></div>
<div class="t c" style="left:1295.30px;top:805px"><span class="d">2018</span>-<span class="d">11</span>-</div>
<div class="t c" style="left:1295.30px;top:824px"><span class="d">05</span></div>
<div class="t c" style="left:1361.40px;top:805px"><span class="d">2018</span>-</div>
<div class="t c" style="left:1361.40px;top:824px"><span class="d">11</span>-<span class="d">05</span></div>
<div class="t c" style="left:1417.00px;top:815px"><span class="u">FESTSE</span> <span class="d">01</span></div>
<div class="t c" style="left:37.60px;top:873px"><span class="u">ERP</span></div>
<div class="t c" style="left:75.20px;top:873px">Entrada</div>
<div class="t c" style="left:136.00px;top:854px"><span class="u">N</span>ota: <span class="d">000000042</span> <span class="u">S</span>er: <span class="d">001</span> <span class="u">P</span>art:</div>
<div class="t c" style="left:136.00px;top:873px"><span class="u">FESTSE</span> <span class="d">01</span> <span class="u">I</span>tem: <span class="d">0001</span> <span class="u">P</span>rod:</div>
<div class="t c" style="left:136.00px;top:892px"><span class="u">ESTSE</span><span class="d">0000000000000000000000013</span></div>
<div class="t c" style="left:349.50px;top:873px"><span class="d">0</span></div>
<div class="t c" style="left:435.40px;top:873px"><span class="d">0</span></div>
<div class="t c" style="left:503.50px;top:873px"><span class="d">0</span></div>
<div class="t c" style="left:573.70px;top:873px"><span class="d">0</span></div>
<div class="t c" style="left:648.50px;top:873px"><span class="d">0</span></div>
<div class="t c" style="left:729.30px;top:873px"><span class="d">50</span></div>
<div class="t c" style="left:801.80px;top:873px"><span class="d">0</span></div>
<div class="t c" style="left:858.50px;top:873px"><span class="d">0</span></div>
<div class="t c" style="left:927.60px;top:873px"><span class="d">50</span></div>
<div class="t c" style="left:998.30px;top:873px"><span class="d">50</span></div>
<div class="t c" style="left:1071.30px;top:873px"><span class="d">50</span></div>
<div class="t c" style="left:1146.40px;top:854px"><span class="u">D</span></div>
<div class="t c" style="left:1146.40px;top:873px"><span class="u">MG</span></div>
<div class="t c" style="left:1146.40px;top:892px"><span class="d">01</span></div>
<div class="t c" style="left:1183.00px;top:873px"><span class="d">001</span></div>
<div class="t c" style="left:1222.30px;top:873px"><span class="d">000000042</span></div>
<div class="t c" style="left:1295.30px;top:863px"><span class="d">2018</span>-<span class="d">11</span>-</div>
<div class="t c" style="left:1295.30px;top:882px"><span class="d">05</span></div>
<div class="t c" style="left:1361.40px;top:863px"><span class="d">2018</span>-</div>
<div class="t c" style="left:1361.40px;top:882px"><span class="d">11</span>-<span class="d">05</span></div>
<div class="t c" style="left:1417.00px;top:873px"><span class="u">FESTSE</span> <span class="d">01</span></div>
<div class="t c" style="left:37.60px;top:932px"><span class="u">ERP</span></div>
<div class="t c" style="left:75.20px;top:932px">Entrada</div>
<div class="t c" style="left:136.00px;top:912px"><span class="u">N</span>ota: <span class="d">000000052</span> <span class="u">S</span>er: <span class="d">001</span> <span class="u">P</span>art:</div>
<div class="t c" style="left:136.00px;top:931px"><span class="u">FESTSE</span> <span class="d">01</span> <span class="u">I</span>tem: <span class="d">0001</span> <span class="u">P</span>rod:</div>
<div class="t c" style="left:136.00px;top:950px"><span class="u">ESTSE</span><span class="d">0000000000000000000000014</span></div>
<div class="t c" style="left:349.50px;top:932px"><span class="d">0</span></div>
<div class="t c" style="left:435.40px;top:932px"><span class="d">0</span></div>
<div class="t c" style="left:503.50px;top:932px"><span class="d">0</span></div>
<div class="t c" style="left:573.70px;top:932px"><span class="d">0</span></div>
<div class="t c" style="left:648.50px;top:932px"><span class="d">0</span></div>
<div class="t c" style="left:729.30px;top:932px"><span class="d">50</span></div>
<div class="t c" style="left:801.80px;top:932px"><span class="d">0</span></div>
<div class="t c" style="left:858.50px;top:932px"><span class="d">0</span></div>
<div class="t c" style="left:927.60px;top:932px"><span class="d">50</span></div>
<div class="t c" style="left:998.30px;top:932px"><span class="d">50</span></div>
<div class="t c" style="left:1071.30px;top:932px"><span class="d">50</span></div>
<div class="t c" style="left:1146.40px;top:912px"><span class="u">D</span></div>
<div class="t c" style="left:1146.40px;top:931px"><span class="u">MG</span></div>
<div class="t c" style="left:1146.40px;top:950px"><span class="d">01</span></div>
<div class="t c" style="left:1183.00px;top:932px"><span class="d">001</span></div>
<div class="t c" style="left:1222.30px;top:932px"><span class="d">000000052</span></div>
<div class="t c" style="left:1295.30px;top:922px"><span class="d">2018</span>-<span class="d">11</span>-</div>
<div class="t c" style="left:1295.30px;top:941px"><span class="d">12</span></div>
<div class="t c" style="left:1361.40px;top:922px"><span class="d">2018</span>-</div>
<div class="t c" style="left:1361.40px;top:941px"><span class="d">11</span>-<span class="d">12</span></div>
<div class="t c" style="left:1417.00px;top:932px"><span class="u">FESTSE</span> <span class="d">01</span></div>
<div class="t" style="left:1509.60px;top:234.35px;font-size:8.8px;color:#2a2a2a;font-weight:400;-webkit-text-stroke:0.15px #2a2a2a;letter-spacing:-0.1px;">PARÂMETROS</div>
<div class="t" style="left:1509.60px;top:272.93px;font-size:9px;color:#555;">01DaFilial</div>
<div class="inp" style="top:259px;height:36px"></div>
<div class="t" style="left:1590.00px;top:269.55px;font-size:13px;color:#4d4d4d;">D MG 01</div>
<svg class="ic" style="left:1750px;top:267px" width="20" height="20" viewBox="0 0 20 20"><circle cx="8.6" cy="8.3" r="5.4" fill="none" stroke="#0c9abe" stroke-width="1.6"/><path d="M12.6 12.3 L17.7 17.4" stroke="#0c9abe" stroke-width="1.8"/></svg>
<div class="t" style="left:1509.60px;top:320.90px;font-size:9px;color:#555;">02AteFilial</div>
<div class="inp" style="top:307px;height:36px"></div>
<div class="t" style="left:1590.00px;top:317.52px;font-size:13px;color:#4d4d4d;">XPFIS25</div>
<svg class="ic" style="left:1750px;top:315px" width="20" height="20" viewBox="0 0 20 20"><circle cx="8.6" cy="8.3" r="5.4" fill="none" stroke="#0c9abe" stroke-width="1.6"/><path d="M12.6 12.3 L17.7 17.4" stroke="#0c9abe" stroke-width="1.8"/></svg>
<div class="t" style="left:1509.60px;top:368.87px;font-size:9px;color:#555;">03DaEntrada</div>
<div class="inp" style="top:355px;height:36px"></div>
<div class="t" style="left:1590.00px;top:365.49px;font-size:13px;color:#4d4d4d;">16/05/2010</div>
<svg class="ic" style="left:1752px;top:364px" width="16" height="18" viewBox="0 0 16 18"><rect x="1.9" y="3" width="12.4" height="12.9" rx="2" fill="none" stroke="#0c9abe" stroke-width="1.7"/><path d="M1.9 6.6 H14.3" stroke="#0c9abe" stroke-width="1.5"/><path d="M4.6 1 V3.5 M12.2 1 V3.5" stroke="#0c9abe" stroke-width="1.5"/><g fill="#0c9abe"><rect x="4.5" y="9" width="1.4" height="1.4"/><rect x="7.6" y="9" width="1.4" height="1.4"/><rect x="10.8" y="9" width="1.4" height="1.4"/><rect x="4.5" y="12.3" width="1.4" height="1.4"/><rect x="7.6" y="12.3" width="1.4" height="1.4"/><rect x="10.8" y="12.3" width="1.4" height="1.4"/></g></svg>
<div class="t" style="left:1509.60px;top:416.84px;font-size:9px;color:#555;">04AteEntrada</div>
<div class="inp" style="top:403px;height:36px"></div>
<div class="t" style="left:1590.00px;top:413.46px;font-size:13px;color:#4d4d4d;">16/05/2023</div>
<svg class="ic" style="left:1752px;top:412px" width="16" height="18" viewBox="0 0 16 18"><rect x="1.9" y="3" width="12.4" height="12.9" rx="2" fill="none" stroke="#0c9abe" stroke-width="1.7"/><path d="M1.9 6.6 H14.3" stroke="#0c9abe" stroke-width="1.5"/><path d="M4.6 1 V3.5 M12.2 1 V3.5" stroke="#0c9abe" stroke-width="1.5"/><g fill="#0c9abe"><rect x="4.5" y="9" width="1.4" height="1.4"/><rect x="7.6" y="9" width="1.4" height="1.4"/><rect x="10.8" y="9" width="1.4" height="1.4"/><rect x="4.5" y="12.3" width="1.4" height="1.4"/><rect x="7.6" y="12.3" width="1.4" height="1.4"/><rect x="10.8" y="12.3" width="1.4" height="1.4"/></g></svg>
<div class="t" style="left:1509.60px;top:464.81px;font-size:9px;color:#555;">05DaEmissao</div>
<div class="inp" style="top:451px;height:36px"></div>
<div class="t" style="left:1590.00px;top:461.43px;font-size:13px;color:#4d4d4d;">16/05/2010</div>
<svg class="ic" style="left:1752px;top:460px" width="16" height="18" viewBox="0 0 16 18"><rect x="1.9" y="3" width="12.4" height="12.9" rx="2" fill="none" stroke="#0c9abe" stroke-width="1.7"/><path d="M1.9 6.6 H14.3" stroke="#0c9abe" stroke-width="1.5"/><path d="M4.6 1 V3.5 M12.2 1 V3.5" stroke="#0c9abe" stroke-width="1.5"/><g fill="#0c9abe"><rect x="4.5" y="9" width="1.4" height="1.4"/><rect x="7.6" y="9" width="1.4" height="1.4"/><rect x="10.8" y="9" width="1.4" height="1.4"/><rect x="4.5" y="12.3" width="1.4" height="1.4"/><rect x="7.6" y="12.3" width="1.4" height="1.4"/><rect x="10.8" y="12.3" width="1.4" height="1.4"/></g></svg>
<div class="t" style="left:1509.60px;top:512.78px;font-size:9px;color:#555;">06AteEmissao</div>
<div class="inp" style="top:499px;height:36px"></div>
<div class="t" style="left:1590.00px;top:509.40px;font-size:13px;color:#4d4d4d;">16/05/2023</div>
<svg class="ic" style="left:1752px;top:508px" width="16" height="18" viewBox="0 0 16 18"><rect x="1.9" y="3" width="12.4" height="12.9" rx="2" fill="none" stroke="#0c9abe" stroke-width="1.7"/><path d="M1.9 6.6 H14.3" stroke="#0c9abe" stroke-width="1.5"/><path d="M4.6 1 V3.5 M12.2 1 V3.5" stroke="#0c9abe" stroke-width="1.5"/><g fill="#0c9abe"><rect x="4.5" y="9" width="1.4" height="1.4"/><rect x="7.6" y="9" width="1.4" height="1.4"/><rect x="10.8" y="9" width="1.4" height="1.4"/><rect x="4.5" y="12.3" width="1.4" height="1.4"/><rect x="7.6" y="12.3" width="1.4" height="1.4"/><rect x="10.8" y="12.3" width="1.4" height="1.4"/></g></svg>
<div class="t" style="left:1509.60px;top:560.75px;font-size:9px;color:#555;">07DoDocum...</div>
<div class="inp" style="top:547px;height:35px"></div>
<div class="t" style="left:1509.60px;top:608.72px;font-size:9px;color:#555;">08AteDocum...</div>
<div class="inp" style="top:595px;height:35px"></div>
<div class="t" style="left:1590.00px;top:605.34px;font-size:13px;color:#4d4d4d;">ZZZ</div>
<div class="t" style="left:1509.60px;top:656.69px;font-size:9px;color:#555;">09DaSerie</div>
<div class="inp" style="top:643px;height:35px"></div>
<div class="t" style="left:1509.60px;top:704.66px;font-size:9px;color:#555;">10AteSerie</div>
<div class="inp" style="top:691px;height:35px"></div>
<div class="t" style="left:1590.00px;top:701.28px;font-size:13px;color:#4d4d4d;">ZZZ</div>
<div class="t" style="left:1509.60px;top:752.63px;font-size:9px;color:#555;">11DoParticip...</div>
<div class="inp" style="top:739px;height:35px"></div>
<div class="t" style="left:1509.60px;top:800.60px;font-size:9px;color:#555;">12AtePartici...</div>
<div class="inp" style="top:787px;height:35px"></div>
<div class="t" style="left:1590.00px;top:797.22px;font-size:13px;color:#4d4d4d;">ZZZ</div>
<div id="envring"></div>
<div class="btn" id="enviar"><span>Enviar</span></div>
<div id="fcol"></div>
<div id="fbtn"><svg width="40" height="39" viewBox="0 0 40 39"><path d="M12.6 12.6 H28.6 L22.3 19.8 V27.2 H19 V19.8 Z" fill="none" stroke="#fff" stroke-width="1.5" stroke-linejoin="round"/></svg></div>
<div id="rsh"></div>
<div id="rstrip"></div>
<div style="position:absolute;left:9px;top:971px;width:1836px;height:1px;background:#f2f2f2"></div>
</body></html>
